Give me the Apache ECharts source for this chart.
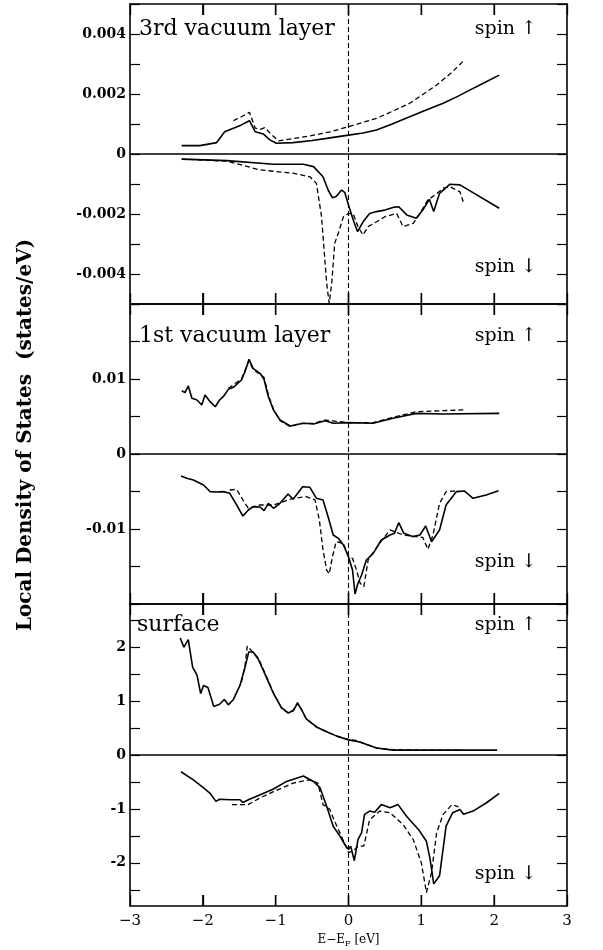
<!DOCTYPE html>
<html><head><meta charset="utf-8">
<script src="https://cdn.jsdelivr.net/npm/echarts@6/dist/echarts.min.js"></script>
<style>html,body{margin:0;padding:0;background:#fff}#c{width:603px;height:950px}</style>
</head><body><div id="c"></div><script>
// ---- data ----
const xTicks = [-3, -2, -1, 0, 1, 2, 3];
const xTickLabels = ['\u22123', '\u22122', '\u22121', '0', '1', '2', '3'];

const p1Ticks = [-0.005, -0.004, -0.003, -0.002, -0.001, 0, 0.001, 0.002, 0.003, 0.004, 0.005];
const p1Labels = [-0.004, -0.002, 0, 0.002, 0.004];
const p2Ticks = [-0.02, -0.015, -0.01, -0.005, 0, 0.005, 0.01, 0.015, 0.02];
const p2Labels = [-0.01, 0, 0.01];
const p3Ticks = [-2.5, -2, -1.5, -1, -0.5, 0, 0.5, 1, 1.5, 2, 2.5];
const p3Labels = [-2, -1, 0, 1, 2];

const panelNames = ['3rd vacuum layer', '1st vacuum layer', 'surface'];
const spinUp = 'spin \u2191';
const spinDown = 'spin \u2193';

// 3rd vacuum layer
const p1UpSolid = [[-2.29,0.00028],[-2.04,0.00028],[-1.81,0.00038],[-1.70,0.00074],[-1.58,0.00086],[-1.47,0.00097],[-1.36,0.00111],[-1.28,0.00074],[-1.17,0.00067],[-1.08,0.00047],[-0.99,0.00036],[-0.76,0.00038],[-0.5,0.00045],[-0.30,0.00052],[0,0.00063],[0.2,0.0007],[0.385,0.0008],[0.6,0.001],[0.84,0.00124],[1.05,0.00145],[1.30,0.00169],[1.5,0.00192],[1.665,0.00213],[1.85,0.00236],[2.07,0.00263]];
const p1UpDashed = [[-1.58,0.00111],[-1.47,0.00124],[-1.36,0.00139],[-1.28,0.00086],[-1.21,0.00082],[-1.15,0.00088],[-1.05,0.00063],[-0.96,0.00044],[-0.53,0.0006],[-0.25,0.00074],[0,0.00091],[0.385,0.00119],[0.6,0.00142],[0.84,0.00169],[1.0,0.00195],[1.21,0.0023],[1.4,0.00268],[1.57,0.00308]];
const p1DnSolid = [[-2.29,-0.00017],[-1.67,-0.00022],[-1.03,-0.00034],[-0.62,-0.00034],[-0.48,-0.00042],[-0.35,-0.00076],[-0.28,-0.0012],[-0.22,-0.00146],[-0.17,-0.00142],[-0.095,-0.0012],[-0.05,-0.00129],[0,-0.0017],[0.065,-0.0022],[0.125,-0.00259],[0.20,-0.00226],[0.29,-0.00198],[0.385,-0.00192],[0.50,-0.00187],[0.61,-0.00178],[0.69,-0.00176],[0.80,-0.00203],[0.93,-0.00214],[1.02,-0.00187],[1.11,-0.00151],[1.17,-0.00192],[1.25,-0.00131],[1.39,-0.00101],[1.53,-0.00103],[2.07,-0.00181]];
const p1DnDashed = [[-2.29,-0.00017],[-1.67,-0.00024],[-1.215,-0.00053],[-0.76,-0.00064],[-0.53,-0.00076],[-0.44,-0.00098],[-0.37,-0.00209],[-0.30,-0.00431],[-0.265,-0.00498],[-0.23,-0.00431],[-0.19,-0.00298],[-0.14,-0.00264],[-0.07,-0.00209],[0,-0.00198],[0.065,-0.002],[0.13,-0.00242],[0.20,-0.0027],[0.27,-0.00242],[0.385,-0.00226],[0.50,-0.00209],[0.66,-0.00198],[0.75,-0.00242],[0.89,-0.00231],[0.98,-0.00198],[1.09,-0.00153],[1.185,-0.00137],[1.30,-0.00114],[1.39,-0.00109],[1.53,-0.00126],[1.575,-0.00159]];

// 1st vacuum layer
const p2UpSolid = [[-2.29,0.00844],[-2.245,0.00818],[-2.2,0.00907],[-2.15,0.00742],[-2.08,0.0072],[-2.015,0.00653],[-1.97,0.00787],[-1.90,0.00698],[-1.83,0.0063],[-1.77,0.0072],[-1.72,0.00764],[-1.65,0.00862],[-1.58,0.00889],[-1.47,0.00987],[-1.42,0.011],[-1.366,0.01262],[-1.31,0.01142],[-1.215,0.01076],[-1.16,0.00996],[-1.10,0.00764],[-1.03,0.00587],[-0.94,0.00453],[-0.80,0.00373],[-0.67,0.004],[-0.61,0.00409],[-0.48,0.004],[-0.32,0.00444],[-0.21,0.00409],[0,0.00418],[0.34,0.00409],[0.61,0.00476],[0.93,0.00542],[1.30,0.00533],[2.07,0.00542]];
const p2UpDashed = [[-1.65,0.00876],[-1.47,0.01],[-1.366,0.01244],[-1.31,0.01129],[-1.16,0.01022],[-1.10,0.00787],[-1.03,0.00596],[-0.94,0.00444],[-0.80,0.00364],[-0.67,0.00409],[-0.48,0.00409],[-0.32,0.00453],[0,0.00418],[0.34,0.00418],[0.61,0.00489],[0.93,0.00564],[1.30,0.00578],[1.575,0.00587]];
const p2DnSolid = [[-2.30,-0.00293],[-2.22,-0.00324],[-2.13,-0.00347],[-1.99,-0.00413],[-1.90,-0.00502],[-1.81,-0.00507],[-1.72,-0.00502],[-1.63,-0.00524],[-1.535,-0.0068],[-1.45,-0.00827],[-1.375,-0.00747],[-1.31,-0.00702],[-1.215,-0.00707],[-1.16,-0.00756],[-1.10,-0.00658],[-1.03,-0.00724],[-0.94,-0.00658],[-0.83,-0.00533],[-0.76,-0.00604],[-0.63,-0.00436],[-0.53,-0.00444],[-0.44,-0.00591],[-0.35,-0.00613],[-0.28,-0.00836],[-0.21,-0.0108],[-0.14,-0.01124],[-0.07,-0.01213],[0,-0.01369],[0.055,-0.01547],[0.09,-0.01867],[0.13,-0.01724],[0.18,-0.01613],[0.245,-0.01413],[0.34,-0.01324],[0.45,-0.01147],[0.57,-0.0108],[0.63,-0.01058],[0.69,-0.00916],[0.76,-0.01058],[0.89,-0.01102],[0.98,-0.0108],[1.06,-0.0096],[1.14,-0.01169],[1.25,-0.01013],[1.34,-0.0068],[1.48,-0.00502],[1.59,-0.00493],[1.71,-0.00591],[1.89,-0.00547],[2.06,-0.00489]];
const p2DnDashed = [[-1.63,-0.0048],[-1.535,-0.00471],[-1.45,-0.00613],[-1.375,-0.00724],[-1.215,-0.0068],[-1.03,-0.0068],[-0.76,-0.00591],[-0.58,-0.00569],[-0.46,-0.00613],[-0.40,-0.0088],[-0.35,-0.0128],[-0.30,-0.01547],[-0.265,-0.016],[-0.22,-0.01369],[-0.17,-0.01169],[-0.07,-0.01191],[0,-0.01369],[0.055,-0.01391],[0.11,-0.01547],[0.16,-0.01724],[0.21,-0.01769],[0.27,-0.01413],[0.36,-0.0128],[0.48,-0.01124],[0.57,-0.01013],[0.75,-0.0108],[0.93,-0.01102],[1.02,-0.01113],[1.09,-0.01271],[1.16,-0.0108],[1.25,-0.00658],[1.34,-0.00502],[1.46,-0.00493],[1.53,-0.00502]];

// surface
const p3UpSolid = [[-2.31,2.17],[-2.26,2.0],[-2.20,2.14],[-2.14,1.63],[-2.08,1.48],[-2.03,1.14],[-1.99,1.29],[-1.93,1.25],[-1.85,0.90],[-1.77,0.94],[-1.705,1.03],[-1.65,0.93],[-1.58,1.03],[-1.49,1.29],[-1.42,1.63],[-1.37,1.91],[-1.31,1.91],[-1.24,1.78],[-1.15,1.51],[-1.03,1.14],[-0.92,0.88],[-0.83,0.78],[-0.76,0.82],[-0.70,0.96],[-0.64,0.83],[-0.58,0.67],[-0.44,0.52],[-0.30,0.43],[-0.16,0.35],[0,0.28],[0.155,0.24],[0.385,0.13],[0.61,0.09],[1.07,0.09],[2.04,0.09]];
const p3UpDashed = [[-1.47,1.35],[-1.42,1.66],[-1.39,2.02],[-1.33,1.93],[-1.24,1.8],[-1.15,1.53],[-1.03,1.15],[-0.92,0.87],[-0.83,0.78],[-0.76,0.83],[-0.70,0.97],[-0.64,0.83],[-0.58,0.67],[-0.44,0.52],[-0.30,0.43],[-0.16,0.35],[0,0.29],[0.1,0.27],[0.2,0.22],[0.385,0.13],[0.61,0.1],[1.0,0.09],[1.57,0.09]];
const p3DnSolid = [[-2.30,-0.31],[-2.13,-0.46],[-1.99,-0.61],[-1.90,-0.71],[-1.82,-0.86],[-1.77,-0.82],[-1.63,-0.83],[-1.49,-0.83],[-1.45,-0.88],[-1.36,-0.82],[-1.22,-0.74],[-1.03,-0.63],[-0.85,-0.49],[-0.62,-0.39],[-0.48,-0.49],[-0.39,-0.61],[-0.30,-0.95],[-0.21,-1.32],[-0.12,-1.50],[-0.05,-1.66],[0,-1.75],[0.03,-1.69],[0.08,-1.96],[0.13,-1.57],[0.18,-1.44],[0.22,-1.10],[0.29,-1.04],[0.36,-1.06],[0.45,-0.92],[0.57,-0.98],[0.68,-0.92],[0.80,-1.14],[0.96,-1.38],[1.07,-1.60],[1.12,-1.93],[1.17,-2.39],[1.25,-2.24],[1.34,-1.32],[1.43,-1.07],[1.53,-1.01],[1.58,-1.10],[1.71,-1.04],[1.89,-0.89],[2.07,-0.71]];
const p3DnDashed = [[-1.60,-0.92],[-1.38,-0.92],[-1.22,-0.80],[-1.03,-0.68],[-0.76,-0.52],[-0.53,-0.46],[-0.42,-0.52],[-0.35,-0.92],[-0.26,-1.0],[-0.19,-1.23],[-0.10,-1.50],[0,-1.81],[0.065,-1.78],[0.13,-1.69],[0.21,-1.69],[0.29,-1.20],[0.43,-1.04],[0.57,-1.07],[0.75,-1.29],[0.89,-1.57],[1.0,-2.0],[1.07,-2.55],[1.14,-2.18],[1.21,-1.44],[1.30,-1.10],[1.42,-0.92],[1.51,-0.96]];

// ---- chart ----
const SERIF = '"DejaVu Serif", serif';
const panels = [
  {top: 4, height: 300, range: 0.005, ticks: p1Ticks, labels: p1Labels,
   fmt: v => Math.abs(v) < 1e-12 ? '0' : v.toFixed(3),
   lines: [p1UpSolid, p1UpDashed, p1DnSolid, p1DnDashed]},
  {top: 304, height: 300, range: 0.02, ticks: p2Ticks, labels: p2Labels,
   fmt: v => Math.abs(v) < 1e-12 ? '0' : v.toFixed(2),
   lines: [p2UpSolid, p2UpDashed, p2DnSolid, p2DnDashed]},
  {top: 604, height: 302, range: 2.8, ticks: p3Ticks, labels: p3Labels,
   fmt: v => String(v),
   lines: [p3UpSolid, p3UpDashed, p3DnSolid, p3DnDashed]}
];

const TICK_LEN = 11;
const axisLine = {show: true, onZero: false, lineStyle: {color: '#000', width: 1.6}};
const grid = [], xAxis = [], yAxis = [], series = [];
panels.forEach((p, i) => {
  grid.push({left: 130, width: 437, top: p.top, height: p.height});
  ['bottom', 'top'].forEach(pos => {
    const isLabel = pos === 'bottom' && i === 2;
    xAxis.push({
      type: 'value', gridIndex: i, position: pos, min: xTicks[0], max: xTicks[xTicks.length - 1], interval: 1,
      axisLine: axisLine,
      axisTick: {show: true, inside: true, length: TICK_LEN, lineStyle: {color: '#000', width: 1.3}},
      axisLabel: {show: isLabel, margin: 8, color: '#000',
        fontFamily: SERIF, fontSize: 15,
        formatter: v => { const k = xTicks.indexOf(Math.round(v)); return k < 0 ? '' : xTickLabels[k]; }},
      splitLine: {show: false},
      name: isLabel ? '{n|E\u2212E}{s|F}{n| [eV]}' : '',
      nameLocation: 'middle', nameGap: 26,
      nameTextStyle: {rich: {
        n: {fontFamily: SERIF, fontSize: 12, color: '#000'},
        s: {fontFamily: SERIF, fontSize: 8, color: '#000', verticalAlign: 'bottom', padding: [8, 0, 0, 0]}
      }}
    });
  });
  ['left', 'right'].forEach(pos => {
    yAxis.push({
      type: 'value', gridIndex: i, position: pos, min: -p.range, max: p.range,
      axisLine: axisLine,
      axisTick: {show: true, inside: true, length: 10, customValues: p.ticks, lineStyle: {color: '#000', width: 1.2}},
      axisLabel: {show: pos === 'left', customValues: p.labels, margin: 4, color: '#000',
        fontFamily: SERIF, fontWeight: 'bold', fontSize: 14, formatter: p.fmt},
      splitLine: {show: false}
    });
  });
  p.lines.forEach((d, k) => {
    const dashed = k % 2 === 1;
    const s = {
      type: 'line', xAxisIndex: 2 * i, yAxisIndex: 2 * i, data: d,
      showSymbol: false, symbol: 'none', silent: true,
      lineStyle: {color: '#000', width: dashed ? 1.3 : 1.6, type: dashed ? [5, 3] : 'solid'},
      z: dashed ? 3 : 4
    };
    if (k === 0) {
      s.markLine = {silent: true, symbol: 'none', label: {show: false}, animation: false,
        data: [
          {yAxis: 0, lineStyle: {type: 'solid', width: 1.5, color: '#000'}},
          {xAxis: 0, lineStyle: {type: [5, 3], width: 1.1, color: '#000'}}
        ]};
    }
    series.push(s);
  });
});

const txt = (text, x, y, align, size) => ({
  type: 'text', x: x, y: y, silent: true,
  style: {text: text, font: size + 'px ' + SERIF, fill: '#000', align: align, verticalAlign: 'middle'}
});

const graphic = [
  txt(panelNames[0], 139, 29, 'left', 22),
  txt(spinUp, 537, 29, 'right', 19),
  txt(spinDown, 537, 267, 'right', 19),
  txt(panelNames[1], 139, 336, 'left', 22),
  txt(spinUp, 537, 336, 'right', 19),
  txt(spinDown, 537, 562, 'right', 19),
  txt(panelNames[2], 137, 625, 'left', 22),
  txt(spinUp, 537, 625, 'right', 19),
  txt(spinDown, 537, 874, 'right', 19),
  {type: 'text', x: 26, y: 435, rotation: Math.PI / 2, silent: true,
   style: {text: 'Local Density of States  (states/eV)', font: 'bold 20px ' + SERIF,
     fill: '#000', align: 'center', verticalAlign: 'middle'}}
];

const chart = echarts.init(document.getElementById('c'), null, {renderer: 'canvas'});
chart.setOption({animation: false, backgroundColor: '#fff', grid, xAxis, yAxis, series, graphic});

// x tick marks on the top and bottom edge of each panel, located through the chart's own scales
const tickMarks = [];
panels.forEach((p, i) => {
  xTicks.slice(1, -1).forEach(v => {
    const b = chart.convertToPixel({xAxisIndex: 2 * i, yAxisIndex: 2 * i}, [v, -p.range]);
    const t = chart.convertToPixel({xAxisIndex: 2 * i, yAxisIndex: 2 * i}, [v, p.range]);
    if (!b || !t) return;
    tickMarks.push({type: 'line', silent: true, z: 100,
      shape: {x1: b[0], y1: b[1], x2: b[0], y2: b[1] - TICK_LEN},
      style: {stroke: '#000', lineWidth: 1.4}});
    tickMarks.push({type: 'line', silent: true, z: 100,
      shape: {x1: t[0], y1: t[1], x2: t[0], y2: t[1] + TICK_LEN},
      style: {stroke: '#000', lineWidth: 1.4}});
  });
});
chart.setOption({graphic: graphic.concat(tickMarks)});
</script></body></html>
